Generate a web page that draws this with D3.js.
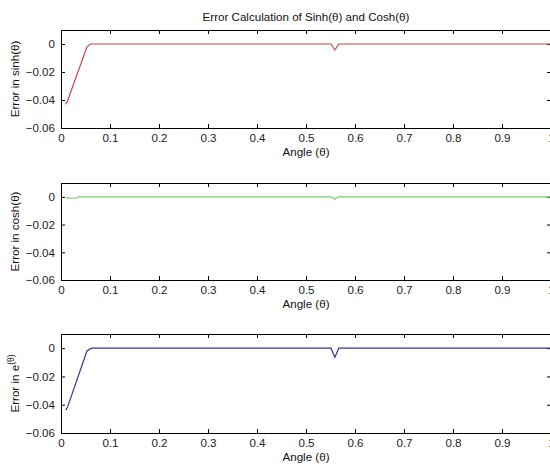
<!DOCTYPE html>
<html>
<head>
<meta charset="utf-8">
<script src="https://cdn.jsdelivr.net/npm/d3@7"></script>
<style>
  body { margin: 0; background: #fff; }
  svg { display: block; font-family: "Liberation Sans", Arial, sans-serif; }
  .tick text { fill: #222; }
</style>
</head>
<body>
<div id="chart"></div>
<script>
// values
const sinhAngle = [0.01, 0.014, 0.053, 0.06, 0.551, 0.559, 0.567, 1.0];
const sinhErr   = [-0.043, -0.040, -0.002, 0, 0, -0.0043, 0, 0];

const coshAngle = [0.01, 0.03, 0.036, 0.551, 0.559, 0.567, 1.0];
const coshErr   = [-0.0008, -0.001, 0, 0, -0.0017, 0, 0];

const expAngle = [0.01, 0.014, 0.053, 0.062, 0.551, 0.559, 0.567, 1.0];
const expErr   = [-0.044, -0.041, -0.002, 0, 0, -0.0064, 0, 0];

const xTicks = [0, 0.1, 0.2, 0.3, 0.4, 0.5, 0.6, 0.7, 0.8, 0.9, 1];
const yTicks = [0, -0.02, -0.04, -0.06];

const title = 'Error Calculation of Sinh(\u03b8) and Cosh(\u03b8)';
const xLabel = 'Angle (\u03b8)';

const W = 550, H = 468;
const left = 61, right = 551;
const fs = 11.6;

const panels = [
    { top: 30, bottom: 128, xs: sinhAngle, ys: sinhErr, color: '#c4434f', label: 'sinh' },
    { top: 183, bottom: 280, xs: coshAngle, ys: coshErr, color: '#6fcf6f', label: 'cosh' },
    { top: 334, bottom: 433, xs: expAngle, ys: expErr, color: '#35359a', label: 'exp' }
];

const svg = d3.select('#chart').append('svg')
    .attr('width', W)
    .attr('height', H);

const x = d3.scaleLinear().domain([0, 1]).range([left, right]);

svg.append('text')
    .attr('x', (left + right) / 2)
    .attr('y', 21)
    .attr('text-anchor', 'middle')
    .attr('font-size', fs)
    .attr('fill', '#111')
    .text(title);

panels.forEach(p => {
    const y = d3.scaleLinear().domain([-0.06, 0.01]).range([p.bottom, p.top]);
    const g = svg.append('g');

    // bottom axis with labels, inward ticks
    g.append('g')
        .attr('transform', `translate(0,${p.bottom})`)
        .call(d3.axisBottom(x).tickValues(xTicks).tickSizeInner(-4).tickSizeOuter(0).tickPadding(6)
            .tickFormat(d => d === 0 ? '0' : d3.format('.1f')(d).replace(/\.0$/, '')))
        .call(a => a.select('.domain').remove())
        .call(a => a.selectAll('text').attr('font-size', fs).attr('font-family', null));

    // top ticks
    g.append('g')
        .attr('transform', `translate(0,${p.top})`)
        .call(d3.axisTop(x).tickValues(xTicks).tickSizeInner(-4).tickSizeOuter(0).tickFormat(''))
        .call(a => a.select('.domain').remove());

    // left axis
    g.append('g')
        .attr('transform', `translate(${left},0)`)
        .call(d3.axisLeft(y).tickValues(yTicks).tickSizeInner(-4).tickSizeOuter(0).tickPadding(6)
            .tickFormat(d => d === 0 ? '0' : d3.format('.2f')(d)))
        .call(a => a.select('.domain').remove())
        .call(a => a.selectAll('text').attr('font-size', fs).attr('font-family', null));

    // right ticks
    g.append('g')
        .attr('transform', `translate(${right},0)`)
        .call(d3.axisRight(y).tickValues(yTicks).tickSizeInner(-4).tickSizeOuter(0).tickFormat(''))
        .call(a => a.select('.domain').remove());

    // frame
    g.append('rect')
        .attr('x', left + 0.5)
        .attr('y', p.top + 0.5)
        .attr('width', right - left)
        .attr('height', p.bottom - p.top)
        .attr('fill', 'none')
        .attr('stroke', '#000')
        .attr('stroke-width', 1);

    const line = d3.line()
        .x((d, i) => x(p.xs[i]))
        .y(d => y(d));

    g.append('path')
        .datum(p.ys)
        .attr('fill', 'none')
        .attr('stroke', p.color)
        .attr('stroke-width', 1.2)
        .attr('d', line);

    // x label
    g.append('text')
        .attr('x', (left + right) / 2)
        .attr('y', p.bottom + 28)
        .attr('text-anchor', 'middle')
        .attr('font-size', fs)
        .attr('fill', '#111')
        .text(xLabel);

    // y label
    const cy = (p.top + p.bottom) / 2;
    const yl = g.append('text')
        .attr('transform', `translate(19,${cy}) rotate(-90)`)
        .attr('text-anchor', 'middle')
        .attr('font-size', fs)
        .attr('fill', '#111');
    if (p.label === 'exp') {
        yl.append('tspan').text('Error in e');
        yl.append('tspan').attr('dy', -5).attr('font-size', 8.5).text('(\u03b8)');
    } else {
        yl.text(`Error in ${p.label}(\u03b8)`);
    }
});
</script>
</body>
</html>
